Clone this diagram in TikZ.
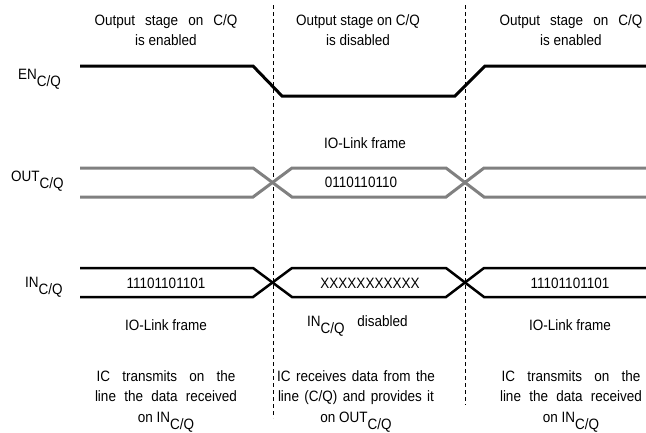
\documentclass[tikz,border=0pt]{standalone}
\usepackage{fontspec}
\setmainfont[FakeStretch=0.9]{Liberation Sans}
\definecolor{sgray}{RGB}{128,128,128}
\begin{document}
\begin{tikzpicture}[x=1pt,y=-1pt,
  txt/.style={font=\fontsize{15}{20.5}\selectfont, inner sep=0pt, align=center},
  lbl/.style={font=\fontsize{15}{20}\selectfont, inner sep=0pt, anchor=base west},
  ensig/.style={line width=3pt, black},
  outsig/.style={line width=3pt, sgray},
  insig/.style={line width=2.5pt, black},
  divider/.style={line width=0.8pt, dash pattern=on 4pt off 3pt}]
\useasboundingbox (0,0) rectangle (646,432);
\newcommand{\sub}[1]{\raisebox{-7pt}{#1}}
% dividers
\coordinate (d1t) at (273,5);
\coordinate (d1b) at (273,418);
\coordinate (d2t) at (465,5);
\coordinate (d2b) at (465,405);
\draw[divider] (d1t) -- (d1b);
\draw[divider] (d2t) -- (d2b);
% top texts
\node[txt] (t1) at (166,30) {\makebox[143pt][s]{Output stage on C/Q}\\is enabled};
\node[txt] (t2) at (358,30) {Output stage on C/Q\\is disabled};
\node[txt] (t3) at (571,30) {\makebox[143pt][s]{Output stage on C/Q}\\is enabled};
% labels
\node[lbl] (len) at (18,79) {EN\sub{C/Q}};
\node[lbl] (lout) at (11,181) {OUT\sub{C/Q}};
\node[lbl] (lin) at (25,287) {IN\sub{C/Q}};
% EN signal
\coordinate (e0) at (80,66);
\coordinate (e1) at (253,66);
\coordinate (e2) at (282,96);
\coordinate (e3) at (455,96);
\coordinate (e4) at (485,66);
\coordinate (e5) at (646,66);
\draw[ensig, line join=miter] (e0) -- (e1) -- (e2) -- (e3) -- (e4) -- (e5);
% OUT signal
\coordinate (oa0) at (80,168);
\coordinate (oa1) at (253,168);
\coordinate (oa2) at (292,197);
\coordinate (oa3) at (446,197);
\coordinate (oa4) at (484,168);
\coordinate (oa5) at (646,168);
\coordinate (ob0) at (80,197);
\coordinate (ob1) at (253,197);
\coordinate (ob2) at (292,168);
\coordinate (ob3) at (446,168);
\coordinate (ob4) at (484,197);
\coordinate (ob5) at (646,197);
\draw[outsig] (oa0) -- (oa1) -- (oa2) -- (oa3) -- (oa4) -- (oa5);
\draw[outsig] (ob0) -- (ob1) -- (ob2) -- (ob3) -- (ob4) -- (ob5);
\node[txt] (oframe) at (365,143) {IO-Link frame};
\node[txt] (odata) at (361,182) {0110110110};
% IN signal
\coordinate (ia0) at (80,268);
\coordinate (ia1) at (253,268);
\coordinate (ia2) at (292,297);
\coordinate (ia3) at (446,297);
\coordinate (ia4) at (484,268);
\coordinate (ia5) at (646,268);
\coordinate (ib0) at (80,297);
\coordinate (ib1) at (253,297);
\coordinate (ib2) at (292,268);
\coordinate (ib3) at (446,268);
\coordinate (ib4) at (484,297);
\coordinate (ib5) at (646,297);
\draw[insig] (ia0) -- (ia1) -- (ia2) -- (ia3) -- (ia4) -- (ia5);
\draw[insig] (ib0) -- (ib1) -- (ib2) -- (ib3) -- (ib4) -- (ib5);
\node[txt] (idata1) at (166,283) {11101101101};
\node[txt] (idata2) at (370,283) {XXXXXXXXXXX};
\node[txt] (idata3) at (570,283) {11101101101};
\node[txt] (iframe1) at (166,325) {IO-Link frame};
\node[lbl] (idis) at (307,326) {IN\sub{C/Q}\hspace{9pt} disabled};
\node[txt] (iframe3) at (570,325) {IO-Link frame};
% bottom texts
\node[txt] (b1) at (166,401) {\makebox[139pt][s]{IC transmits on the}\\\makebox[142pt][s]{line the data received}\\on IN\sub{C/Q}};
\node[txt] (b2) at (356,401) {\makebox[158pt][s]{IC receives data from the}\\\makebox[156pt][s]{line (C/Q) and provides it}\\on OUT\sub{C/Q}};
\node[txt] (b3) at (571,401) {\makebox[139pt][s]{IC transmits on the}\\\makebox[142pt][s]{line the data received}\\on IN\sub{C/Q}};
\end{tikzpicture}
\end{document}
